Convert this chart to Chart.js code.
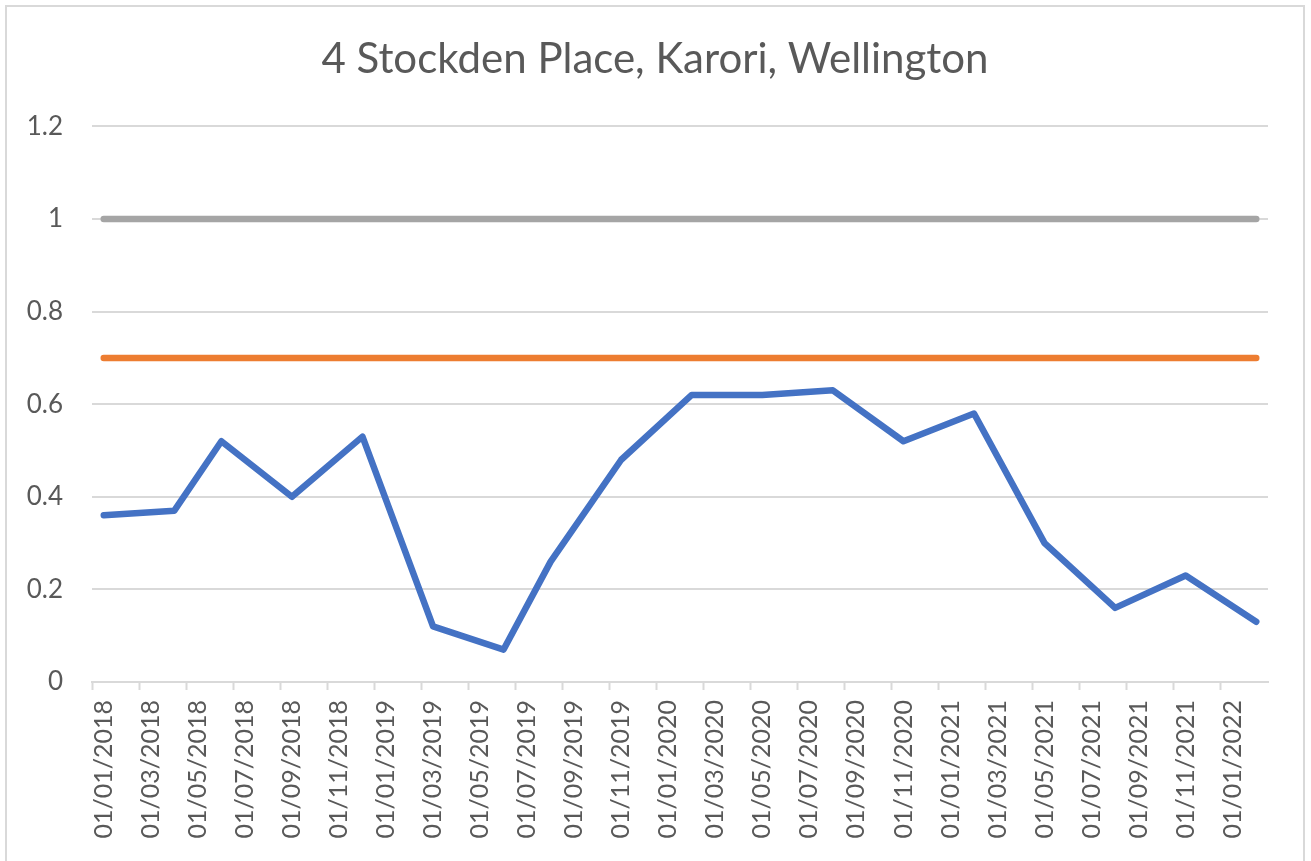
<!DOCTYPE html>
<html>
<head>
<meta charset="utf-8">
<title>4 Stockden Place, Karori, Wellington</title>
<script src="https://cdn.jsdelivr.net/npm/chart.js@4.4.1/dist/chart.umd.min.js"></script>
<style>
    html, body { margin: 0; padding: 0; background: #fff; overflow: hidden; }
    #frame {
        position: absolute;
        left: 5px;
        top: 5px;
        width: 1296px;
        height: 860px;
        border: 2px solid #d9d9d9;
        background: #fff;
    }
    #chart { display: block; }
</style>
</head>
<body>
<div id="frame">
    <canvas id="chart" width="1296" height="854"></canvas>
</div>
<script>
// sample dates (dd/mm/yyyy) and the ratio
const sampleDates = ['01/01/2018', '01/04/2018', '01/06/2018', '01/09/2018', '01/12/2018',
    '01/03/2019', '01/06/2019', '01/08/2019', '01/11/2019', '01/02/2020', '01/05/2020',
    '01/08/2020', '01/11/2020', '01/02/2021', '01/05/2021', '01/08/2021', '01/11/2021', '01/02/2022'];
const ratioValues = [0.36, 0.37, 0.52, 0.40, 0.53, 0.12, 0.07, 0.26, 0.48, 0.62, 0.62,
    0.63, 0.52, 0.58, 0.30, 0.16, 0.23, 0.13];
const upperValues = [1, 1, 1, 1, 1, 1, 1, 1, 1, 1, 1, 1, 1, 1, 1, 1, 1, 1];
const lowerValues = [0.7, 0.7, 0.7, 0.7, 0.7, 0.7, 0.7, 0.7, 0.7, 0.7, 0.7, 0.7, 0.7, 0.7, 0.7, 0.7, 0.7, 0.7];
const yTicks = [0, 0.2, 0.4, 0.6, 0.8, 1, 1.2];

// month slots of the date axis, Jan 2018 .. Feb 2022
const monthSlots = [];
for (let y = 2018; y <= 2022; y++) {
    for (let m = 1; m <= 12; m++) {
        if (y === 2022 && m > 2) break;
        monthSlots.push('01/' + String(m).padStart(2, '0') + '/' + y);
    }
}

const fontFamily = 'Lato, "Open Sans", sans-serif';
const textColor = '#595959';
const gridColor = '#d9d9d9';

function series(values, color) {
    return {
        data: sampleDates.map(function(d, i) { return { x: d, y: values[i] }; }),
        borderColor: color,
        backgroundColor: color,
        borderWidth: 6.5,
        borderCapStyle: 'round',
        borderJoinStyle: 'round',
        pointRadius: 0,
        tension: 0,
        fill: false
    };
}

new Chart(document.getElementById('chart'), {
    type: 'line',
    data: {
        labels: monthSlots,
        datasets: [
            series(ratioValues, '#4472c4'),
            series(lowerValues, '#ed7d31'),
            series(upperValues, '#a5a5a5')
        ]
    },
    options: {
        responsive: false,
        animation: false,
        devicePixelRatio: 1,
        layout: { padding: 0 },
        plugins: {
            legend: { display: false },
            tooltip: { enabled: false },
            title: {
                display: true,
                text: '4 Stockden Place, Karori, Wellington',
                color: textColor,
                font: { family: fontFamily, size: 42, weight: 'normal' },
                padding: { top: 27, bottom: 42 }
            }
        },
        scales: {
            x: {
                type: 'category',
                offset: true,
                grid: {
                    offset: true,
                    drawOnChartArea: false,
                    drawTicks: true,
                    tickLength: 8,
                    tickWidth: 2,
                    tickColor: function(ctx) { return ctx.index % 2 === 0 ? gridColor : 'rgba(0,0,0,0)'; }
                },
                border: { display: true, color: gridColor, width: 2 },
                ticks: {
                    autoSkip: false,
                    minRotation: 90,
                    maxRotation: 90,
                    padding: 10,
                    color: textColor,
                    font: { family: fontFamily, size: 25 },
                    callback: function(value, index) {
                        return index % 2 === 0 ? this.getLabelForValue(value) : '';
                    }
                },
                afterFit: function(scale) { scale.height = 179; }
            },
            y: {
                min: 0,
                max: 1.2,
                afterBuildTicks: function(scale) {
                    scale.ticks = yTicks.map(function(v) { return { value: v }; });
                },
                grid: { color: gridColor, lineWidth: 2, drawTicks: false },
                border: { display: false },
                ticks: {
                    padding: 29,
                    color: textColor,
                    font: { family: fontFamily, size: 26 },
                    callback: function(value) { return String(Number(value.toFixed(1))); }
                },
                afterFit: function(scale) { scale.width = 85; }
            },
            // empty right-hand margin, so the title stays centred on the whole frame
            yRight: {
                position: 'right',
                grid: { display: false },
                border: { display: false },
                ticks: { display: false },
                afterFit: function(scale) { scale.width = 35; }
            }
        }
    }
});
</script>
</body>
</html>
